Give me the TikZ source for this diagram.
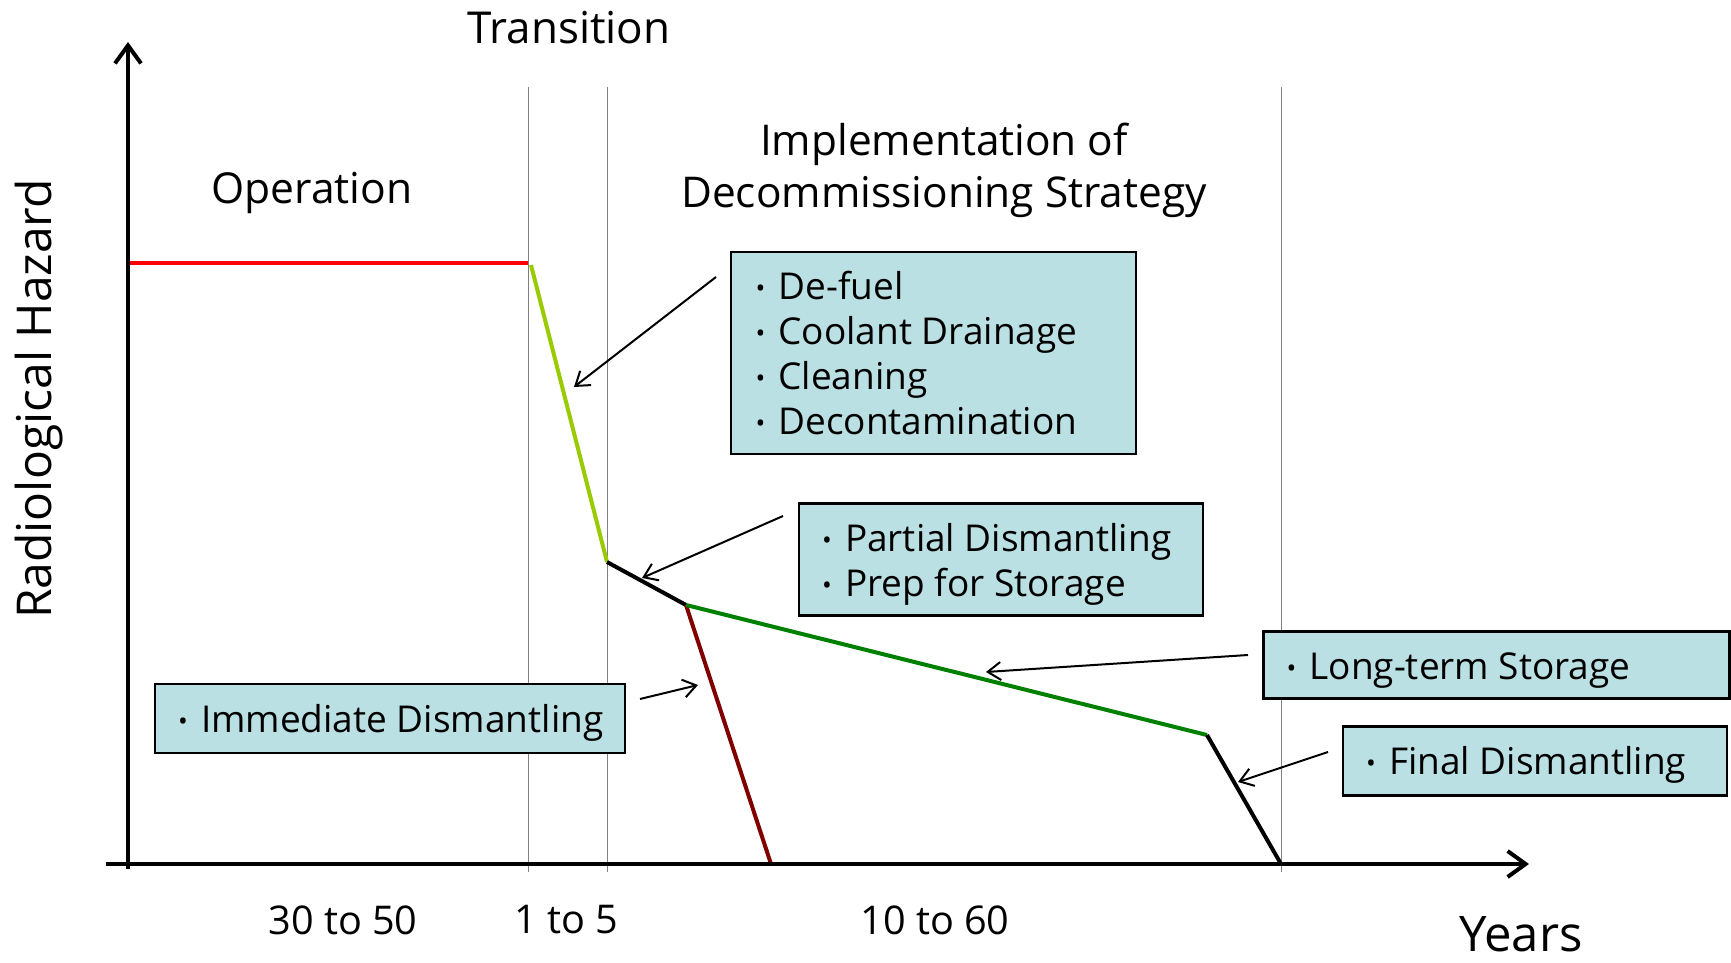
\documentclass[tikz,border=0pt]{standalone}
\usepackage{fontspec}
\setmainfont{Open Sans}
\usetikzlibrary{arrows.meta}
\definecolor{boxfill}{HTML}{BBE0E3}
\definecolor{ygreen}{HTML}{99CC00}
\definecolor{dgreen}{HTML}{008000}
\definecolor{maroonred}{HTML}{800000}
\newcommand\bul{\makebox[11.5pt][l]{\raisebox{1pt}{\fontsize{13pt}{13pt}\selectfont •}}}
% #1 lowering, #2 width, #3 lines
\newcommand\btext[3]{\raisebox{-#1}[\height][\depth]{\makebox[#2][l]{\begin{tabular}{@{}l@{}}#3\end{tabular}}}}
\begin{document}
\begin{tikzpicture}[x=0.5pt,y=-0.5pt,
  axis/.style={line width=2pt,-{Straight Barb[length=9pt,width=13pt,line width=2pt]}},
  gridline/.style={line width=0.5pt,gray},
  curve/.style={line width=2pt},
  callout/.style={line width=1pt,-{Straight Barb[length=6.5pt,width=9pt,line width=1pt]}},
  lbl/.style={inner sep=0pt},
  box/.style={draw,line width=1.3pt,fill=boxfill,inner ysep=0pt,inner xsep=11.5pt,
    font=\fontsize{18.5pt}{22.5pt}\selectfont}]
\useasboundingbox (0,0) rectangle (1731,963);
% axes
\coordinate (ybot) at (128,869);
\coordinate (ytop) at (128,42);
\coordinate (xl) at (106,864);
\coordinate (xr) at (1529,864);
% grid lines
\coordinate (g1t) at (528,87); \coordinate (g1b) at (528,872);
\coordinate (g2t) at (607,87); \coordinate (g2b) at (607,872);
\coordinate (g3t) at (1281,87); \coordinate (g3b) at (1281,872);
\draw[gridline] (g1t) -- (g1b);
\draw[gridline] (g2t) -- (g2b);
\draw[gridline] (g3t) -- (g3b);
% curve points
\coordinate (p0) at (128,263);
\coordinate (p1) at (528,263);
\coordinate (p1b) at (531,265);
\coordinate (p2) at (607,562);
\coordinate (p3) at (686,605);
\coordinate (p4) at (771,864);
\coordinate (p5) at (1207,735);
\coordinate (p6) at (1281,864);
\draw[curve,red] (p0) -- (p1);
\draw[curve,ygreen] (p1b) -- (p2);
\draw[curve,black] (p2) -- (p3);
\draw[curve,maroonred] (p3) -- (p4);
\draw[curve,dgreen] (p3) -- (p5);
\draw[curve,black] (p5) -- (p6);
\draw[axis] (ybot) -- (ytop);
\draw[axis] (xl) -- (xr);
% labels
\node[lbl,font=\fontsize{22pt}{22pt}\selectfont] (trans) at (569,28) {Transition};
\node[lbl,font=\fontsize{21.3pt}{22pt}\selectfont] (oper) at (312,192.5) {Operation};
\node[lbl,align=center,font=\fontsize{21.2pt}{26pt}\selectfont] (impl) at (944,170) {Implementation of\\Decommissioning Strategy};
\node[lbl,font=\fontsize{24pt}{24pt}\selectfont,rotate=90] (yl) at (39,399) {Radiological Hazard};
\node[lbl,font=\fontsize{19.8pt}{22pt}\selectfont] (n1) at (343,920) {30 to 50};
\node[lbl,font=\fontsize{19.8pt}{22pt}\selectfont] (n2) at (566,920) {1 to 5};
\node[lbl,font=\fontsize{19.8pt}{22pt}\selectfont] (n3) at (935,920) {10 to 60};
\node[lbl,font=\fontsize{24.5pt}{25pt}\selectfont] (yrs) at (1521,934) {Years};
% boxes
\node[box,minimum width=202.5pt,minimum height=101pt,inner xsep=12pt] (bA) at (933.5,353)
  {\btext{2.5pt}{178pt}{\bul De-fuel\\\bul Coolant Drainage\\\bul Cleaning\\\bul Decontamination}};
\node[box,minimum width=202pt,minimum height=56pt] (bB) at (1001,559.5)
  {\btext{2.6pt}{179pt}{\bul Partial Dismantling\\\bul Prep for Storage}};
\node[box,minimum width=233pt,minimum height=33.5pt] (bC) at (1496.5,665)
  {\btext{2.5pt}{210pt}{\bul Long-term Storage}};
\node[box,minimum width=192pt,minimum height=34.5pt] (bD) at (1535,761)
  {\btext{2.3pt}{169pt}{\bul Final Dismantling}};
\node[box,minimum width=235pt,minimum height=34.5pt] (bE) at (390,718.5)
  {\btext{2.3pt}{212pt}{\bul Immediate Dismantling}};
% callout arrows
\coordinate (a1s) at (716,277); \coordinate (a1e) at (574,387);
\coordinate (a2s) at (783,516); \coordinate (a2e) at (642,578);
\coordinate (a3s) at (1248,655); \coordinate (a3e) at (986,672);
\coordinate (a4s) at (1328,752); \coordinate (a4e) at (1238,782);
\coordinate (a5s) at (640,699); \coordinate (a5e) at (698,685);
\draw[callout] (a1s) -- (a1e);
\draw[callout] (a2s) -- (a2e);
\draw[callout] (a3s) -- (a3e);
\draw[callout] (a4s) -- (a4e);
\draw[callout] (a5s) -- (a5e);
\end{tikzpicture}
\end{document}
